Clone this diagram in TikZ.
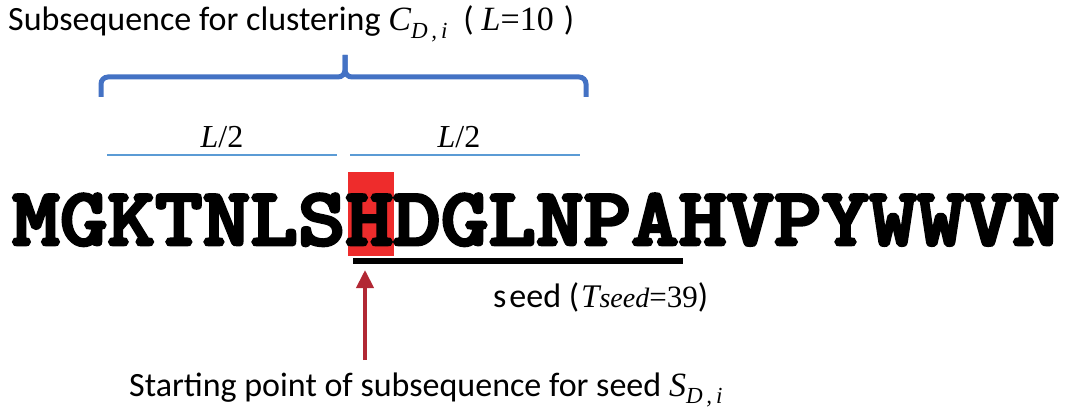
\documentclass[tikz,border=0pt]{standalone}
\usepackage{fontspec}
\setmainfont{Carlito}
\newfontfamily\tnr{Liberation Serif}
\newfontfamily\seqfont[FakeBold=3.5]{lmmonolt10-bold.otf}
\usetikzlibrary{arrows.meta}
\definecolor{braceblue}{RGB}{68,114,196}
\definecolor{lineblue}{RGB}{91,155,213}
\definecolor{hlred}{RGB}{238,44,44}
\definecolor{arrowred}{RGB}{178,40,52}
\begin{document}
\begin{tikzpicture}[x=1pt,y=-1pt,
  bracepath/.style={draw=braceblue,line width=5pt,rounded corners=7pt},
  halfline/.style={draw=lineblue,line width=2pt},
  lbl/.style={inner sep=0pt,anchor=base west,font=\fontsize{34}{38}\selectfont},
  halflbl/.style={inner sep=0pt,anchor=base,font=\tnr\fontsize{32}{34}\selectfont},
  seqtext/.style={inner sep=0pt,anchor=base west,font=\seqfont\fontsize{90.7}{92}\selectfont},
  hlbox/.style={fill=hlred,inner sep=0pt,anchor=north west,minimum width=46pt,minimum height=84pt},
  seedline/.style={draw=black,line width=6pt},
  pointer/.style={draw=arrowred,line width=4pt,-{Triangle[width=17pt,length=18pt]}}
]
\useasboundingbox (0,0) rectangle (1067,409);
% title
\node[lbl] (title) at (8,31)
  {Subsequence for clustering {\tnr\itshape C}\raisebox{-8pt}{\tnr\itshape\fontsize{23}{24}\selectfont D\,,\,i}\hspace{16pt}(\hspace{8pt}{\tnr\itshape L}{\tnr =10}\hspace{10pt})};
% brace
\coordinate (bl) at (101,97);
\coordinate (br) at (586,97);
\coordinate (bm) at (345,77);
\coordinate (bt) at (345,55);
\draw[bracepath] (bl) |- (bm) -- (bt);
\draw[bracepath] (br) |- (bm) -- (bt);
% halves
\node[halflbl] (h1) at (222,147) {\itshape L\upshape/2};
\node[halflbl] (h2) at (459,147) {\itshape L\upshape/2};
\coordinate (l1a) at (107,155);
\coordinate (l1b) at (337,155);
\coordinate (l2a) at (350,155);
\coordinate (l2b) at (580,155);
\draw[halfline] (l1a) -- (l1b);
\draw[halfline] (l2a) -- (l2b);
% highlight and sequence
\node[hlbox] (hbox) at (348,172) {};
\node[seqtext] (seq) at (12,245) {\scalebox{1}[0.91]{MGKTNLSHDGLNPAHVPYWWVN}};
\coordinate (ua) at (353,261);
\coordinate (ub) at (683,261);
\draw[seedline] (ua) -- (ub);
% seed label
\node[lbl] (seed) at (493,307)
  {s\hspace{3pt}eed (\hspace{2pt}{\tnr\itshape\fontsize{33}{36}\selectfont T\fontsize{28}{30}\selectfont seed}{\tnr\fontsize{31}{34}\selectfont =39})};
% pointer
\coordinate (pstart) at (365,360);
\coordinate (pend) at (365,270);
\draw[pointer] (pstart) -- (pend);
% bottom label
\node[lbl] (start) at (129,396)
  {Starting point of subsequence for seed {\tnr\itshape S}\raisebox{-7pt}{\tnr\itshape\fontsize{23}{24}\selectfont D\,,\,i}};
\end{tikzpicture}
\end{document}
